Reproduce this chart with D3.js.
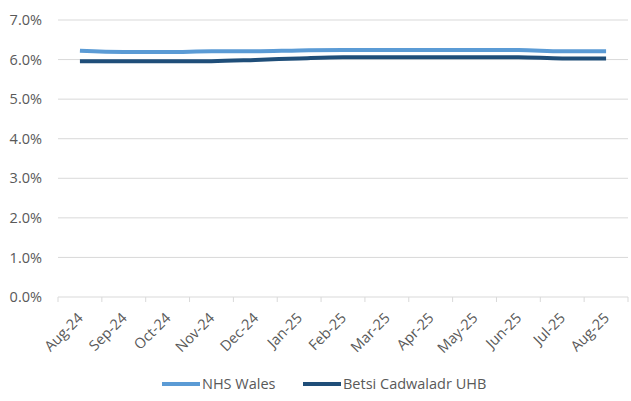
<!DOCTYPE html>
<html>
<head>
<meta charset="utf-8">
<script src="https://cdn.jsdelivr.net/npm/d3@7"></script>
<style>
  body { margin: 0; background: #fff; }
  text { font-family: "Open Sans", "Liberation Sans", Arial, sans-serif; fill: #595959; }
</style>
</head>
<body>
<div id="chart"></div>
<script>
// Data
var months = ['Aug-24', 'Sep-24', 'Oct-24', 'Nov-24', 'Dec-24', 'Jan-25', 'Feb-25',
              'Mar-25', 'Apr-25', 'May-25', 'Jun-25', 'Jul-25', 'Aug-25']
var nhsWales = [6.22, 6.19, 6.19, 6.21, 6.21, 6.23, 6.24, 6.24, 6.24, 6.24, 6.24, 6.21, 6.21]
var betsi = [5.96, 5.96, 5.96, 5.96, 5.99, 6.03, 6.06, 6.06, 6.06, 6.06, 6.06, 6.03, 6.03]
var yTicks = [0, 1, 2, 3, 4, 5, 6, 7]

var series = [
  { name: 'NHS Wales', values: nhsWales, color: '#5B9BD5' },
  { name: 'Betsi Cadwaladr UHB', values: betsi, color: '#1F4E79' }
]

var svgWidth = 631
var svgHeight = 401
var margin = { top: 20, right: 3, bottom: 104, left: 58 }
var width = svgWidth - margin.left - margin.right
var height = svgHeight - margin.top - margin.bottom
var fontSize = '14.5px'

var svg = d3.select('#chart')
  .append('svg')
  .attr('width', svgWidth)
  .attr('height', svgHeight)

var chartGroup = svg.append('g')
  .attr('transform', `translate(${margin.left}, ${margin.top})`)

var x = d3.scaleBand()
  .domain(months)
  .range([0, width])

var y = d3.scaleLinear()
  .domain([0, 7])
  .range([height, 0])

// gridlines
chartGroup.selectAll('.grid')
  .data(yTicks)
  .enter()
  .append('line')
  .attr('x1', 0)
  .attr('x2', width)
  .attr('y1', d => y(d))
  .attr('y2', d => y(d))
  .attr('stroke', '#d9d9d9')
  .attr('stroke-width', 1)

// y labels
chartGroup.selectAll('.ylab')
  .data(yTicks)
  .enter()
  .append('text')
  .attr('x', -16)
  .attr('y', d => y(d))
  .attr('dy', '0.35em')
  .attr('text-anchor', 'end')
  .style('font-size', fontSize)
  .text(d => d.toFixed(1) + '%')

// x tick marks between categories
var tickPos = months.map(m => x(m)).concat([width])
chartGroup.selectAll('.xtick')
  .data(tickPos)
  .enter()
  .append('line')
  .attr('x1', d => d)
  .attr('x2', d => d)
  .attr('y1', height)
  .attr('y2', height + 5)
  .attr('stroke', '#d9d9d9')

// x labels
chartGroup.selectAll('.xlab')
  .data(months)
  .enter()
  .append('text')
  .attr('text-anchor', 'end')
  .style('font-size', fontSize)
  .attr('transform', d => `translate(${x(d) + x.bandwidth() / 2 + 4}, ${height + 22}) rotate(-45)`)
  .text(d => d)

// lines
var line = d3.line()
  .x((d, i) => x(months[i]) + x.bandwidth() / 2)
  .y(d => y(d))
  .curve(d3.curveMonotoneX)

chartGroup.selectAll('.series')
  .data(series)
  .enter()
  .append('path')
  .attr('d', d => line(d.values))
  .attr('fill', 'none')
  .attr('stroke', d => d.color)
  .attr('stroke-width', 4)

// legend
var legend = svg.append('g')
  .attr('transform', 'translate(162, 384)')
var legendX = [0, 141]
series.forEach((s, i) => {
  var g = legend.append('g').attr('transform', `translate(${legendX[i]}, 0)`)
  g.append('line')
    .attr('x1', 0).attr('x2', 38)
    .attr('y1', 0).attr('y2', 0)
    .attr('stroke', s.color)
    .attr('stroke-width', 4)
  g.append('text')
    .attr('x', 40)
    .attr('dy', '0.35em')
    .style('font-size', fontSize)
    .text(s.name)
})
</script>
</body>
</html>
